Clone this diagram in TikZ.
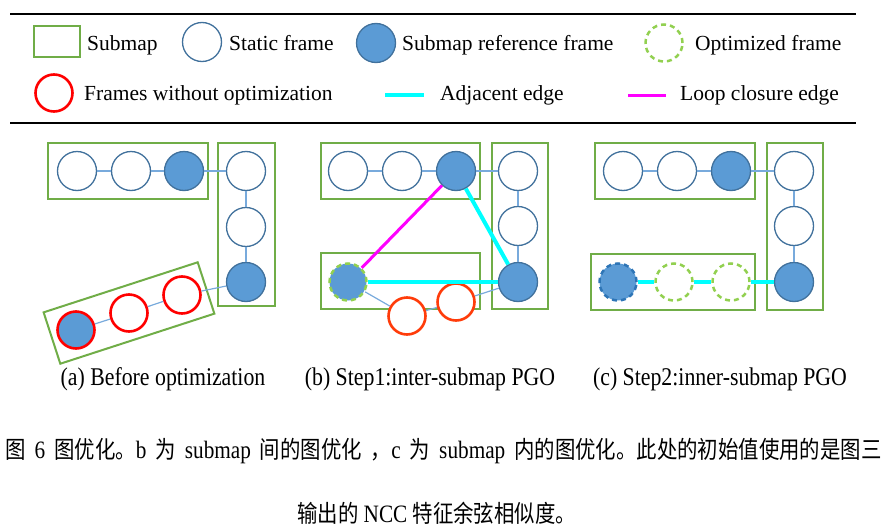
\documentclass[tikz,border=0pt]{standalone}
\usepackage{fontspec}
\setmainfont{Liberation Serif}
\newfontfamily\cjk[Scale=0.96]{Noto Sans CJK SC}
\usetikzlibrary{positioning}
\definecolor{subgreen}{RGB}{112,173,71}
\definecolor{frameblue}{RGB}{65,113,156}
\definecolor{fillblue}{RGB}{91,155,213}
\definecolor{linkblue}{RGB}{120,170,220}
\definecolor{optgreen}{RGB}{146,208,80}
\definecolor{pgored}{RGB}{255,60,10}
\definecolor{darkblue}{RGB}{46,117,182}
\definecolor{adjcyan}{RGB}{0,255,255}
\definecolor{loopmag}{RGB}{255,0,255}

\begin{document}
\begin{tikzpicture}[x=1pt,y=-1pt,
  txt/.style={inner sep=0pt,anchor=base west,font=\fontsize{21.5}{26}\selectfont},
  captxt/.style={inner sep=0pt,anchor=base,font=\fontsize{25.5}{30}\selectfont},
  figtxt/.style={inner sep=0pt,anchor=base west,font=\fontsize{25}{30}\selectfont},
  frm/.style={circle,draw=frameblue,line width=1.3pt,fill=white,minimum size=39pt,inner sep=0pt},
  reff/.style={frm,fill=fillblue},
  redf/.style={frm,draw=red,line width=2.6pt,minimum size=37pt},
  orf/.style={frm,draw=pgored,line width=2.6pt,minimum size=37pt},
  optf/.style={frm,draw=optgreen,line width=2.5pt,dash pattern=on 5pt off 4pt,minimum size=37pt},
  subm/.style={draw=subgreen,line width=2pt},
  lnk/.style={draw=linkblue,line width=1.2pt},
  adj/.style={draw=adjcyan,line width=4pt},
  loopedge/.style={draw=loopmag,line width=3pt}]

\useasboundingbox (0,0) rectangle (896,530);

\draw[line width=2.5pt] (10,14) -- (856,14);
\draw[line width=2.5pt] (10,123) -- (856,123);

\draw[subm] (34,26) rectangle (80,57);
\node[txt] at (87,50) {Submap};
\node[frm] (lgStatic) at (202,42) {};
\node[txt] at (229,50) {Static frame};
\node[reff] (lgRef) at (376,43) {};
\node[txt] at (402,50) {Submap reference frame};
\node[optf] (lgOpt) at (664,43) {};
\node[txt] at (695,50) {Optimized frame};
\node[redf] (lgRed) at (54,93) {};
\node[txt] at (84,100) {Frames without optimization};
\coordinate (adjA) at (385,95);
\coordinate (adjB) at (424,95);
\draw[adj] (adjA) -- (adjB);
\node[txt] at (440,100) {Adjacent edge};
\coordinate (loopA) at (628,95);
\coordinate (loopB) at (666,95);
\draw[loopedge] (loopA) -- (loopB);
\node[txt] at (680,100) {Loop closure edge};

\draw[subm] (48,143) rectangle (208,199);
\draw[subm] (218,143) rectangle (275,306);
\node[subm,rotate=18,minimum width=162pt,minimum height=54pt] (aLow) at (129,313) {};
\node[frm] (a1) at (77,171) {};
\node[frm] (a2) at (131,171) {};
\node[reff] (a3) at (184,171) {};
\node[frm] (a4) at (246,171) {};
\node[frm] (a5) at (246,227) {};
\node[reff] (a6) at (246,282) {};
\node[redf] (a7) at (182,295) {};
\node[redf] (a8) at (129,313) {};
\node[redf,fill=fillblue] (a9) at (76,330) {};
\draw[lnk] (a1) -- (a2);
\draw[lnk] (a2) -- (a3);
\draw[lnk] (a3) -- (a4);
\draw[lnk] (a4) -- (a5);
\draw[lnk] (a5) -- (a6);
\draw[lnk] (a6) -- (a7);
\draw[lnk] (a7) -- (a8);
\draw[lnk] (a8) -- (a9);

\draw[subm] (321,143) rectangle (480,199);
\draw[subm] (492,143) rectangle (548,309);
\draw[subm] (321,253) rectangle (480,309);
\node[frm] (b1) at (348,171) {};
\node[frm] (b2) at (402,171) {};
\node[reff] (b3) at (456,171) {};
\node[frm] (b4) at (518,171) {};
\node[frm] (b5) at (518,226) {};
\node[reff] (b6) at (518,282) {};
\node[optf,fill=fillblue] (b7) at (348,282) {};
\node[orf] (b8) at (407,316) {};
\node[orf] (b9) at (456,302) {};
\draw[lnk] (b1) -- (b2);
\draw[lnk] (b2) -- (b3);
\draw[lnk] (b3) -- (b4);
\draw[lnk] (b4) -- (b5);
\draw[lnk] (b5) -- (b6);
\draw[lnk] (b7) -- (b8);
\draw[lnk] (b8) -- (b9);
\draw[lnk] (b9) -- (b6);
\draw[loopedge] (b3) -- (b7);
\draw[adj] (b3) -- (b6);
\draw[adj] (b7) -- (b6);

\draw[subm] (595,143) rectangle (755,199);
\draw[subm] (767,143) rectangle (823,310);
\draw[subm] (591,254) rectangle (755,310);
\node[frm] (c1) at (623,171) {};
\node[frm] (c2) at (677,171) {};
\node[reff] (c3) at (731,171) {};
\node[frm] (c4) at (794,171) {};
\node[frm] (c5) at (794,226) {};
\node[reff] (c6) at (794,282) {};
\node[optf,draw=darkblue,fill=fillblue] (c7) at (618,282) {};
\node[optf] (c8) at (674,282) {};
\node[optf] (c9) at (731,282) {};
\draw[lnk] (c1) -- (c2);
\draw[lnk] (c2) -- (c3);
\draw[lnk] (c3) -- (c4);
\draw[lnk] (c4) -- (c5);
\draw[lnk] (c5) -- (c6);
\draw[adj] (c7) -- (c8);
\draw[adj] (c8) -- (c9);
\draw[adj] (c9) -- (c6);

\node[captxt] (capA) at (163,385) {\scalebox{0.855}[1]{(a) Before optimization}};
\node[captxt] (capB) at (430,385) {\scalebox{0.855}[1]{(b) Step1:inter-submap PGO}};
\node[captxt] (capC) at (720,385) {\scalebox{0.855}[1]{(c) Step2:inner-submap PGO}};

\node[figtxt] (capLine1) at (5,458) {\scalebox{0.85}[1]{\makebox[1031pt][s]{{\cjk 图} 6 {\cjk 图优化。}b {\cjk 为} submap {\cjk 间的图优化} {\cjk ，}c {\cjk 为} submap {\cjk 内的图优化。此处的初始值使用的是图三}}}};
\node[figtxt] (capLine2) at (297,522) {\scalebox{0.85}[1]{{\cjk 输出的} NCC {\cjk 特征余弦相似度。}}};

\end{tikzpicture}
\end{document}
